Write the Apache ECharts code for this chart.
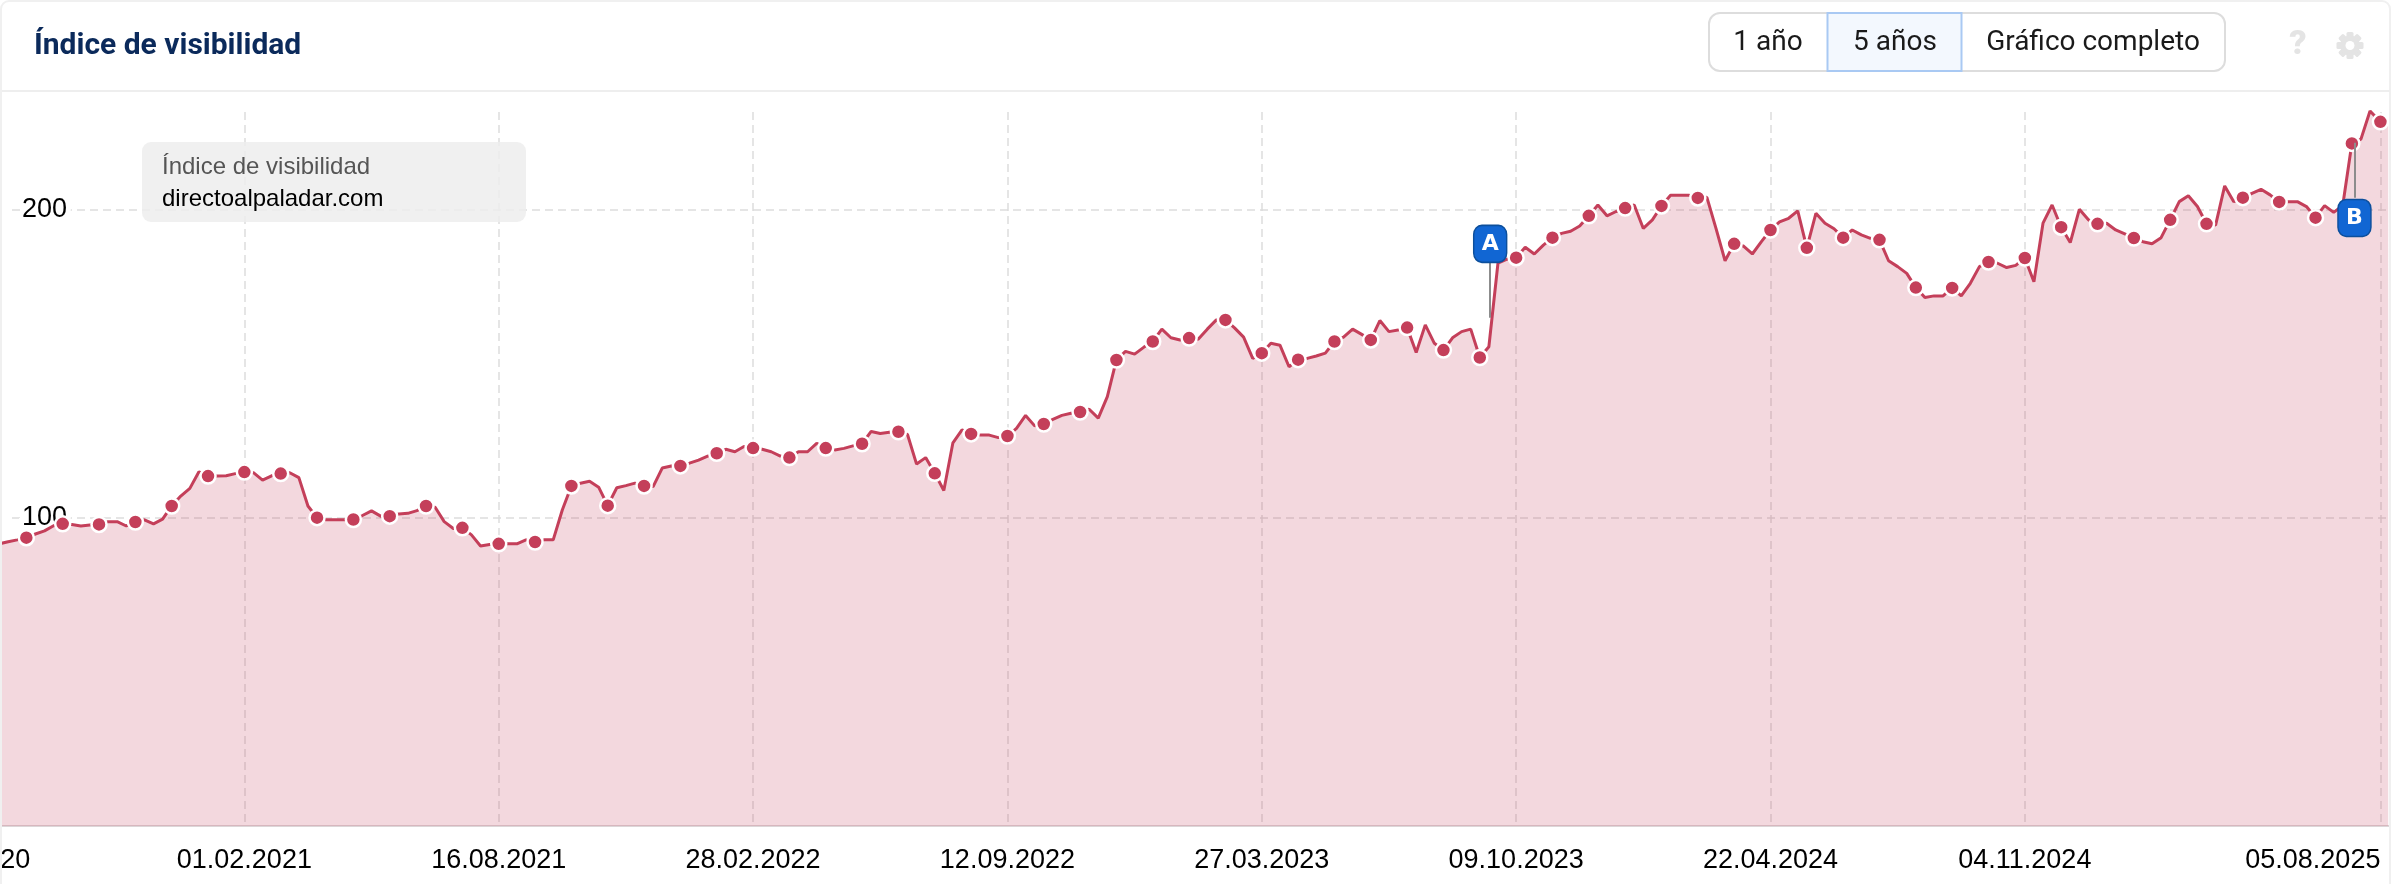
<!DOCTYPE html>
<html>
<head>
<meta charset="utf-8">
<title>Índice de visibilidad</title>
<script src="https://cdn.jsdelivr.net/npm/echarts@6/dist/echarts.min.js"></script>
<style>
html, body { margin: 0; padding: 0; background: #fff; }
#main { width: 2392px; height: 884px; }
</style>
</head>
<body>
<div id="main"></div>
<script>
var chartTitle = 'Índice de visibilidad';
var domainName = 'directoalpaladar.com';
var rangeButtons = ['1 año', '5 años', 'Gráfico completo'];

// x axis labels (Y, M, D), the first one is cut by the left edge of the picture
var tickDates = [
    [2020, 6, 29], [2021, 2, 1], [2021, 8, 16], [2022, 2, 28], [2022, 9, 12],
    [2023, 3, 27], [2023, 10, 9], [2024, 4, 22], [2024, 11, 4], [2025, 8, 5]
];
var yTicks = [100, 200];

// weekly values, first week is 27.07.2020
var visibility = [
    91.6, 92.3, 92.9, 93.6, 94.8, 95.8, 97.5, 98.1, 97.9, 97.4,
    97.7, 97.9, 98.8, 98.8, 97.4, 98.7, 99.4, 98.1, 99.6, 103.9,
    107.1, 109.6, 115.0, 113.6, 113.6, 113.7, 114.4, 114.9, 114.7, 112.3,
    113.7, 114.4, 114.7, 113.1, 103.9, 100.1, 99.4, 99.4, 99.4, 99.5,
    100.8, 102.3, 100.6, 100.6, 101.3, 101.5, 102.4, 103.9, 103.5, 98.8,
    96.6, 96.8, 94.5, 90.9, 91.4, 91.6, 91.6, 91.6, 92.9, 92.2,
    92.9, 92.9, 102.6, 110.4, 111.3, 111.9, 110.0, 104.0, 109.8, 110.5,
    111.3, 110.4, 110.2, 116.2, 116.9, 116.9, 117.8, 118.8, 120.1, 121.0,
    122.3, 121.5, 123.2, 122.7, 122.3, 121.5, 120.1, 119.6, 121.5, 121.5,
    124.2, 122.7, 122.1, 122.6, 123.4, 124.1, 128.1, 127.4, 127.8, 128.0,
    127.1, 117.5, 119.6, 114.5, 108.9, 124.4, 128.6, 127.3, 126.9, 126.9,
    126.1, 126.6, 129.1, 133.3, 129.9, 130.5, 132.0, 133.3, 134.0, 134.4,
    135.3, 132.4, 139.4, 151.3, 154.1, 153.2, 155.4, 157.3, 161.3, 158.5,
    157.8, 158.4, 158.0, 161.3, 164.3, 164.3, 161.7, 158.7, 151.8, 153.5,
    156.7, 156.1, 149.1, 151.4, 151.8, 152.6, 153.5, 157.3, 158.7, 161.3,
    159.6, 157.8, 164.1, 160.5, 161.0, 161.8, 153.7, 162.7, 156.7, 154.5,
    158.5, 160.5, 161.3, 152.1, 155.6, 182.7, 184.0, 184.5, 187.9, 185.7,
    188.6, 191.0, 192.4, 193.1, 194.8, 198.1, 201.6, 198.1, 199.5, 200.6,
    201.6, 194.0, 196.8, 201.3, 204.8, 204.8, 204.8, 203.9, 204.1, 194.0,
    183.5, 189.0, 188.3, 185.7, 189.7, 193.5, 196.1, 197.3, 199.7, 187.7,
    198.9, 195.7, 193.9, 191.0, 193.5, 191.9, 190.8, 190.3, 183.5, 181.6,
    179.4, 174.8, 171.6, 172.1, 172.1, 174.7, 172.1, 176.2, 181.6, 183.1,
    182.7, 181.3, 182.0, 184.4, 176.7, 195.7, 201.6, 194.4, 189.4, 200.2,
    196.8, 195.5, 195.7, 193.5, 192.2, 190.9, 189.7, 189.0, 191.0, 196.8,
    202.7, 204.6, 201.1, 195.5, 195.1, 207.8, 202.7, 204.0, 205.4, 206.7,
    204.9, 202.6, 202.7, 202.7, 201.1, 197.5, 201.4, 199.2, 201.5, 221.6,
    223.0, 232.1, 228.6, 228.7
];

// event flags
var flagNames = ['A', 'B'];
var flagDates = [[2023, 9, 19], [2025, 7, 16]];
var flagStemFrom = [165, 221.8];
var flagStemTo = [182.8, 204];
var flagCenter = [189, 197.4];

function toTime(d) {
    return +new Date(d[0], d[1] - 1, d[2]);
}
function pad(n) {
    return (n < 10 ? '0' : '') + n;
}

var seriesData = visibility.map(function (v, i) {
    var t = +new Date(2020, 6, 27 + i * 7);
    if (i === visibility.length - 2) {
        t = toTime(tickDates[tickDates.length - 1]);
    }
    return [t, v];
});

var labelFont = '"Liberation Sans", Arial, sans-serif';
var uiFont = 'Roboto, sans-serif';
var lineColor = '#c43f5a';
var iconColor = '#e4e4e4';
var dashes = { color: '#dddddd', width: 1.5, type: [8, 5] };

var option = {
    animation: false,
    title: {
        text: chartTitle,
        left: 34,
        top: 29,
        padding: 0,
        textStyle: { fontFamily: uiFont, fontSize: 30, fontWeight: 700, color: '#0b2a5b', lineHeight: 34 }
    },
    grid: [
        { left: 12, right: 2, top: 112, bottom: 58, outerBoundsMode: 'none' },
        { left: -37.25, right: 2.5, top: 112, bottom: 58, outerBoundsMode: 'none' }
    ],
    xAxis: [
        { gridIndex: 0, type: 'value', show: false },
        {
            gridIndex: 1,
            // value axis on timestamps, custom ticks do not work on the time scale
            type: 'value',
            min: toTime(tickDates[0]),
            max: +new Date(2025, 7, 12),
            axisTick: { show: false, customValues: tickDates.map(toTime) },
            axisLine: { show: true, lineStyle: { color: '#dcd6d8', width: 2 } },
            splitLine: { show: true, lineStyle: dashes },
            axisLabel: {
                customValues: tickDates.map(toTime),
                margin: 21,
                hideOverlap: false,
                showMinLabel: true,
                showMaxLabel: true,
                alignMaxLabel: 'right',
                fontFamily: labelFont,
                fontSize: 27,
                color: '#000',
                formatter: function (v) {
                    var d = new Date(v);
                    return pad(d.getDate()) + '.' + pad(d.getMonth() + 1) + '.' + d.getFullYear();
                }
            }
        }
    ],
    yAxis: [
        {
            gridIndex: 0,
            type: 'value',
            min: 0,
            max: 231.8,
            axisLine: { show: false },
            axisTick: { show: false, customValues: yTicks },
            splitLine: { show: true, lineStyle: dashes },
            axisLabel: {
                customValues: yTicks,
                inside: true,
                margin: 10,
                padding: [2, 0, 0, 0],
                fontFamily: labelFont,
                fontSize: 27,
                color: '#000',
                textBorderColor: '#fff',
                textBorderWidth: 10
            }
        },
        { gridIndex: 1, type: 'value', min: 0, max: 231.8, show: false, splitLine: { show: false } }
    ],
    series: [{
        name: chartTitle,
        type: 'line',
        xAxisIndex: 1,
        yAxisIndex: 1,
        clip: false,
        data: seriesData,
        showSymbol: true,
        showAllSymbol: true,
        symbol: function (value, params) {
            var i = params.dataIndex;
            return (i % 4 === 3 && i < visibility.length - 2) || i === visibility.length - 2 ? 'circle' : 'none';
        },
        symbolSize: 15,
        lineStyle: { color: lineColor, width: 3 },
        itemStyle: { color: lineColor, borderColor: '#fff', borderWidth: 2.5 },
        areaStyle: { color: 'rgba(196, 62, 88, 0.2)', opacity: 1 },
        markLine: {
            silent: true,
            symbol: ['none', 'none'],
            label: { show: false },
            lineStyle: { color: '#8c8c8c', width: 2, type: 'solid' },
            data: flagNames.map(function (n, i) {
                return [
                    { coord: [toTime(flagDates[i]), flagStemFrom[i]] },
                    { coord: [toTime(flagDates[i]), flagStemTo[i]] }
                ];
            })
        },
        markPoint: {
            silent: true,
            symbol: 'roundRect',
            symbolSize: [33, 37],
            itemStyle: { color: '#1166d3', borderColor: '#0c4f9c', borderWidth: 1.5 },
            label: { show: true, position: 'inside', fontFamily: '"DejaVu Sans"', fontSize: 22, fontWeight: 'bold', color: '#fff', formatter: '{b}' },
            data: flagNames.map(function (n, i) {
                return { name: n, coord: [toTime(flagDates[i]), flagCenter[i]] };
            })
        }
    }],
    graphic: [
        // card frame and header rule
        { type: 'rect', z: 100, silent: true, shape: { x: 1, y: 1, width: 2389, height: 920, r: 8 }, style: { fill: 'none', stroke: '#f0f0f0', lineWidth: 2 } },
        { type: 'line', z: 100, silent: true, shape: { x1: 2, y1: 91, x2: 2390, y2: 91 }, style: { stroke: '#eeeeee', lineWidth: 2 } },
        // domain box
        { type: 'rect', z: 50, silent: true, shape: { x: 142, y: 142, width: 384, height: 80, r: 9 }, style: { fill: 'rgba(238, 238, 238, 0.88)' } },
        { type: 'text', z: 51, silent: true, x: 162, y: 167, style: { text: chartTitle, font: '24px ' + labelFont, fill: '#555555', verticalAlign: 'middle' } },
        { type: 'text', z: 51, silent: true, x: 162, y: 199, style: { text: domainName, font: '24px ' + labelFont, fill: '#000000', verticalAlign: 'middle' } },
        // range buttons
        { type: 'rect', z: 50, silent: true, shape: { x: 1709, y: 13, width: 516, height: 58, r: 11 }, style: { fill: '#fff', stroke: '#dddddd', lineWidth: 2 } },
        { type: 'rect', z: 51, silent: true, shape: { x: 1827.5, y: 13, width: 134, height: 58 }, style: { fill: '#f3f8fe', stroke: '#a9c9f3', lineWidth: 2 } },
        { type: 'text', z: 52, silent: true, x: 1768, y: 43, style: { text: rangeButtons[0], font: '28px ' + uiFont, fill: '#1a1a1a', align: 'center', verticalAlign: 'middle' } },
        { type: 'text', z: 52, silent: true, x: 1895, y: 43, style: { text: rangeButtons[1], font: '28px ' + uiFont, fill: '#1a1a1a', align: 'center', verticalAlign: 'middle' } },
        { type: 'text', z: 52, silent: true, x: 2093, y: 43, style: { text: rangeButtons[2], font: '28px ' + uiFont, fill: '#1a1a1a', align: 'center', verticalAlign: 'middle' } },
        // help icon
        { type: 'text', z: 52, silent: true, x: 2298, y: 45, style: { text: '?', font: '900 34px ' + uiFont, fill: iconColor, align: 'center', verticalAlign: 'middle' } },
        // settings icon: four bars, disc and hole
        {
            type: 'group', z: 52, silent: true, x: 2350, y: 45.5,
            children: [0, 45, 90, 135].map(function (deg) {
                return { type: 'rect', z: 52, rotation: deg * Math.PI / 180, shape: { x: -3.5, y: -13.5, width: 7, height: 27, r: 1.5 }, style: { fill: iconColor } };
            }).concat([
                { type: 'circle', z: 52, shape: { cx: 0, cy: 0, r: 10 }, style: { fill: iconColor } },
                { type: 'circle', z: 53, shape: { cx: 0, cy: 0, r: 4.5 }, style: { fill: '#fff' } }
            ])
        }
    ]
};

var chart = echarts.init(document.getElementById('main'));
chart.setOption(option);

window.addEventListener('resize', function () { chart.resize(); });
</script>
</body>
</html>
